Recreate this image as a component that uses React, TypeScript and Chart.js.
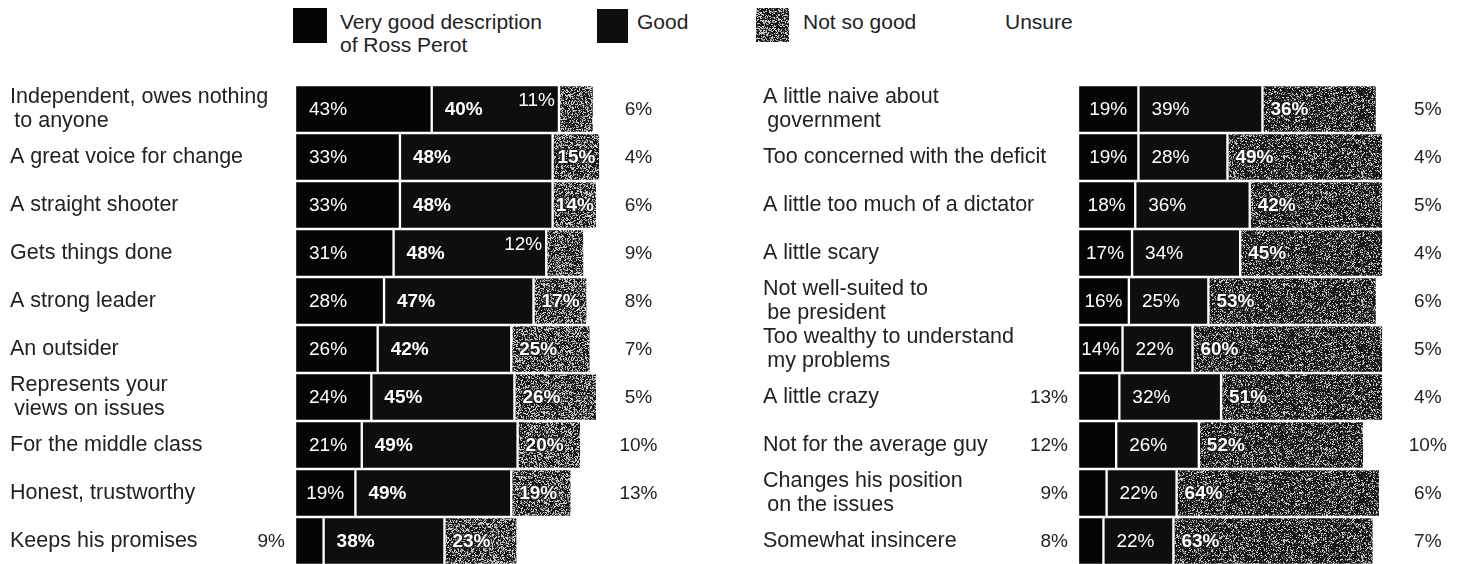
import React, { useEffect, useMemo, useRef } from "react";
import { Chart, registerables } from "chart.js";

Chart.register(...registerables);

// ---------- data ----------
const seriesNames = ["Very good description of Ross Perot", "Good", "Not so good", "Unsure"];

const leftCategories: (string | string[])[] = [
  ["Independent, owes nothing", "\u2009to anyone"],
  "A great voice for change",
  "A straight shooter",
  "Gets things done",
  "A strong leader",
  "An outsider",
  ["Represents your", "\u2009views on issues"],
  "For the middle class",
  "Honest, trustworthy",
  "Keeps his promises",
];
const leftVeryGood = [43, 33, 33, 31, 28, 26, 24, 21, 19, 9];
const leftGood = [40, 48, 48, 48, 47, 42, 45, 49, 49, 38];
const leftNotSoGood = [11, 15, 14, 12, 17, 25, 26, 20, 19, 23];
const leftUnsure: (number | null)[] = [6, 4, 6, 9, 8, 7, 5, 10, 13, null];

const rightCategories: (string | string[])[] = [
  ["A little naive about", "\u2009government"],
  "Too concerned with the deficit",
  "A little too much of a dictator",
  "A little scary",
  ["Not well-suited to", "\u2009be president"],
  ["Too wealthy to understand", "\u2009my problems"],
  "A little crazy",
  "Not for the average guy",
  ["Changes his position", "\u2009on the issues"],
  "Somewhat insincere",
];
const rightVeryGood = [19, 19, 18, 17, 16, 14, 13, 12, 9, 8];
const rightGood = [39, 28, 36, 34, 25, 22, 32, 26, 22, 22];
const rightNotSoGood = [36, 49, 42, 45, 53, 60, 51, 52, 64, 63];
const rightUnsure: (number | null)[] = [5, 4, 5, 4, 6, 5, 4, 10, 6, 7];

// ---------- style ----------
const FONT = "'Liberation Sans', Arial, Helvetica, sans-serif";
const TEXT = "#222222";
const VERY_GOOD_COLOR = "#050505";
const GOOD_COLOR = "#0e0e0e";

function makeNoiseCanvas(density: number): HTMLCanvasElement {
  const size = 128;
  const c = document.createElement("canvas");
  c.width = size;
  c.height = size;
  const ctx = c.getContext("2d")!;
  const img = ctx.createImageData(size, size);
  for (let y = 0; y < size; y++) {
    for (let x = 0; x < size; x++) {
      const h = Math.sin(x * 12.9898 + y * 78.233) * 43758.5453;
      const r = h - Math.floor(h);
      const v = r < density ? 200 : r < density + 0.15 ? 100 : 22;
      const i = (y * size + x) * 4;
      img.data[i] = v;
      img.data[i + 1] = v;
      img.data[i + 2] = v;
      img.data[i + 3] = 255;
    }
  }
  ctx.putImageData(img, 0, 0);
  return c;
}

type PanelProps = {
  cats: (string | string[])[];
  vg: number[];
  good: number[];
  nsg: number[];
  unsure: (number | null)[];
  left: number;
  width: number;
  padLeft: number;
  axisWidth: number;
  padRight: number;
  unsureAt: number;
  goodBold: boolean;
  noise: number;
};

function Panel(p: PanelProps) {
  const ref = useRef<HTMLCanvasElement | null>(null);
  useEffect(() => {
    const canvas = ref.current!;
    const ctx = canvas.getContext("2d")!;
    const pattern = ctx.createPattern(makeNoiseCanvas(p.noise), "repeat")!;

    const labelPlugin = {
      id: "barLabels",
      afterDatasetsDraw(chart: any) {
        const c = chart.ctx;
        const xs = chart.scales.x;
        const m0 = chart.getDatasetMeta(0).data;
        const m1 = chart.getDatasetMeta(1).data;
        const m2 = chart.getDatasetMeta(2).data;
        c.save();
        c.textBaseline = "middle";
        for (let i = 0; i < p.cats.length; i++) {
          const a = m0[i];
          const b = m1[i];
          const d = m2[i];
          const y = a.y + 1;
          // very good
          c.font = `400 19px ${FONT}`;
          const t0 = `${p.vg[i]}%`;
          if (p.vg[i] < 14) {
            c.textAlign = "right";
            c.fillStyle = TEXT;
            c.fillText(t0, a.base - 10, y);
          } else {
            c.textAlign = "left";
            c.fillStyle = "#fff";
            const w = a.x - a.base;
            const tw = c.measureText(t0).width;
            c.fillText(t0, a.base + Math.max(2, Math.min(14, (w - tw) / 2)), y);
          }
          // good
          c.font = `${p.goodBold ? 700 : 400} 19px ${FONT}`;
          c.textAlign = "left";
          c.fillStyle = "#fff";
          c.fillText(`${p.good[i]}%`, b.base + 13, y);
          // not so good
          const t2 = `${p.nsg[i]}%`;
          if (p.nsg[i] < 13) {
            c.font = `400 19px ${FONT}`;
            c.textAlign = "right";
            c.fillStyle = "#fff";
            c.fillText(t2, b.x - 4, y - 9);
          } else {
            c.font = `700 19px ${FONT}`;
            c.textAlign = "left";
            const w = d.x - d.base;
            const tw = c.measureText(t2).width;
            const tx = d.base + Math.max(1, Math.min(8, (w - tw) / 2));
            c.lineWidth = 3;
            c.lineJoin = "round";
            c.strokeStyle = "rgba(20,20,20,0.75)";
            c.strokeText(t2, tx, y);
            c.fillStyle = "#fff";
            c.fillText(t2, tx, y);
          }
          // unsure
          const u = p.unsure[i];
          if (u !== null && u !== undefined) {
            c.font = `400 19px ${FONT}`;
            c.textAlign = "center";
            c.fillStyle = TEXT;
            c.fillText(`${u}%`, xs.getPixelForValue(p.unsureAt), y);
          }
        }
        c.restore();
      },
    };

    const common = {
      borderColor: "#ffffff",
      borderWidth: 1.5,
      borderSkipped: false,
      barPercentage: 1,
      categoryPercentage: 1,
    };

    const chart = new Chart(canvas, {
      type: "bar",
      data: {
        labels: p.cats,
        datasets: [
          { ...common, label: seriesNames[0], data: p.vg, backgroundColor: VERY_GOOD_COLOR },
          { ...common, label: seriesNames[1], data: p.good, backgroundColor: GOOD_COLOR },
          { ...common, label: seriesNames[2], data: p.nsg, backgroundColor: pattern },
        ],
      },
      options: {
        indexAxis: "y",
        animation: false,
        responsive: false,
        maintainAspectRatio: false,
        layout: { padding: { left: p.padLeft, right: p.padRight, top: 5, bottom: 0 } },
        plugins: { legend: { display: false }, tooltip: { enabled: false } },
        scales: {
          x: { display: false, stacked: true, min: 0, max: 100 },
          y: {
            stacked: true,
            grid: { display: false },
            border: { display: false },
            afterFit: (scale: any) => {
              scale.width = p.axisWidth;
              scale.paddingTop = 0;
              scale.paddingBottom = 0;
            },
            ticks: {
              autoSkip: false,
              crossAlign: "far",
              padding: 0,
              color: TEXT,
              font: { family: FONT, size: 21.5, lineHeight: 1.12 },
            },
          },
        },
      } as any,
      plugins: [labelPlugin],
    });
    return () => chart.destroy();
  }, []);
  return (
    <canvas
      ref={ref}
      width={p.width}
      height={485}
      style={{ position: "absolute", left: p.left, top: 80, width: p.width, height: 485 }}
    />
  );
}

export default function App() {
  const swatchUrl = useMemo(() => makeNoiseCanvas(0.32).toDataURL(), []);
  const legendText: React.CSSProperties = {
    position: "absolute",
    font: `21px ${FONT}`,
    lineHeight: "23px",
    color: TEXT,
    whiteSpace: "nowrap",
  };
  return (
    <div
      style={{
        position: "absolute",
        left: 0,
        top: 0,
        width: 1468,
        height: 564,
        overflow: "hidden",
        background: "#fff",
      }}
    >
      <div style={{ position: "absolute", left: 293, top: 8, width: 34, height: 35, background: VERY_GOOD_COLOR }} />
      <div style={{ ...legendText, left: 340, top: 10 }}>
        Very good description
        <br />
        of Ross Perot
      </div>
      <div style={{ position: "absolute", left: 597, top: 9, width: 31, height: 34, background: GOOD_COLOR }} />
      <div style={{ ...legendText, left: 637, top: 10 }}>{seriesNames[1]}</div>
      <div
        style={{
          position: "absolute",
          left: 756,
          top: 8,
          width: 33,
          height: 34,
          backgroundImage: `url(${swatchUrl})`,
        }}
      />
      <div style={{ ...legendText, left: 803, top: 10 }}>{seriesNames[2]}</div>
      <div style={{ ...legendText, left: 1005, top: 10 }}>{seriesNames[3]}</div>

      <Panel
        cats={leftCategories}
        vg={leftVeryGood}
        good={leftGood}
        nsg={leftNotSoGood}
        unsure={leftUnsure}
        left={0}
        width={700}
        padLeft={10}
        axisWidth={285}
        padRight={87}
        unsureAt={108}
        goodBold={true}
        noise={0.32}
      />
      <Panel
        cats={rightCategories}
        vg={rightVeryGood}
        good={rightGood}
        nsg={rightNotSoGood}
        unsure={rightUnsure}
        left={740}
        width={728}
        padLeft={23}
        axisWidth={315}
        padRight={72}
        unsureAt={110}
        goodBold={false}
        noise={0.2}
      />
    </div>
  );
}
